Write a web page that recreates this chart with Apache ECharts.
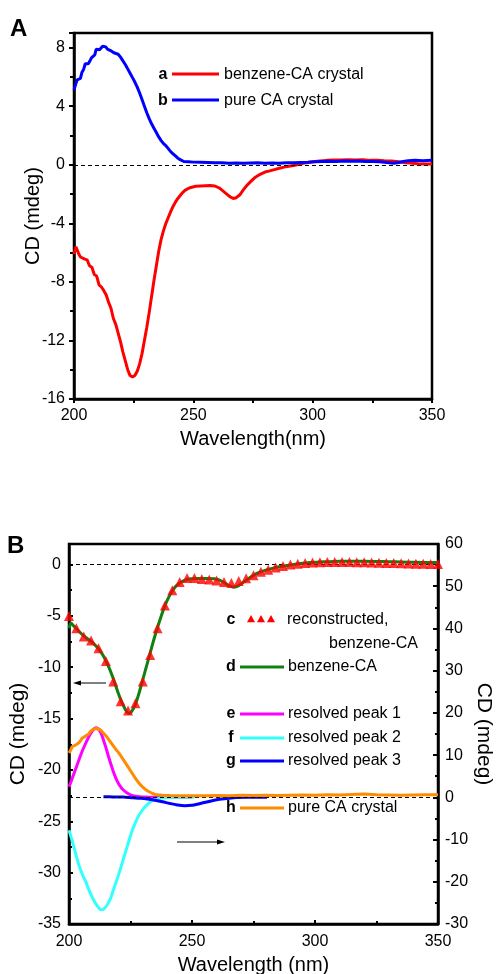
<!DOCTYPE html>
<html><head><meta charset="utf-8">
<script src="https://cdn.jsdelivr.net/npm/echarts@6/dist/echarts.min.js"></script>
<style>html,body{margin:0;padding:0;background:#fff}#c{width:496px;height:974px}</style>
</head><body><div id="c"></div>
<script>
// ---------- Panel A data ----------
const xTicks = [200, 250, 300, 350];
const aRedWl = [200,200.8,201.3,202,202.7,203.5,204.5,205.5,206.5,207.5,208.5,209.5,210.5,211.5,212.5,213.5,214.5,215.5,216.5,217.5,218.5,219.5,220.5,221.5,222.5,223.5,224.5,225.5,226.5,227.5,228.5,229.5,230.5,231.5,232.5,233.5,234.5,235.5,236.5,237.5,238.5,239.5,240.5,241.5,242.5,243.5,244.5,245.5,246.5,247.5,249,251,253,255,257,259,261,262.5,264,265.5,266.7,268,269.5,271,272.5,274,276,278,280,282,284,286,288,290,292,294,296,298,300,303,306,309,312,315,318,321,324,327,330,333,336,339,342,345,348,350];
const aRedCd = [-6.1,-5.6,-5.5,-6.1,-6.3,-6.25,-6.45,-6.5,-6.9,-7.0,-7.5,-7.6,-8.2,-8.35,-8.6,-8.9,-9.4,-9.8,-10.5,-10.9,-11.5,-12.1,-12.8,-13.4,-14.0,-14.4,-14.5,-14.4,-14.1,-13.6,-12.9,-12.0,-11.1,-10.1,-9.0,-7.9,-6.9,-5.9,-5.1,-4.5,-4.0,-3.6,-3.2,-2.85,-2.55,-2.3,-2.1,-1.9,-1.75,-1.65,-1.55,-1.47,-1.45,-1.43,-1.42,-1.45,-1.6,-1.8,-2.0,-2.2,-2.3,-2.25,-2.05,-1.7,-1.4,-1.15,-0.85,-0.65,-0.5,-0.42,-0.33,-0.24,-0.16,-0.1,-0.05,0.02,0.1,0.16,0.2,0.25,0.3,0.33,0.32,0.35,0.33,0.35,0.3,0.3,0.27,0.25,0.2,0.13,0.1,0.06,0.05,0.05];
const aBlueWl = [200,200.7,201.3,202,202.7,203.3,204,204.7,205.3,206,206.7,207.3,208,208.7,209.3,210,210.7,211.3,212,212.6,213.3,214,214.6,215.3,216,216.7,217.5,218.5,219.5,220.5,221.5,222.5,223.5,224.5,225.5,226.5,227.5,228.5,229.5,230.5,231.5,232.5,233.5,234.5,235.5,236.5,237.5,238.5,239.5,240.5,241.5,242.5,243.5,244.5,246,248,250,253,256,259,262,265,268,271,274,277,280,283,286,289,292,295,298,301,304,307,310,313,316,319,322,325,328,331,334,336,338,340,343,346,350];
const aBlueCd = [5.1,5.5,5.8,5.7,5.9,6.3,6.5,6.9,7.0,6.9,7.1,7.3,7.2,7.5,7.9,8.0,7.85,7.9,8.1,8.2,8.05,7.9,7.95,7.8,7.85,7.65,7.6,7.55,7.35,7.1,6.85,6.55,6.25,5.95,5.65,5.3,4.9,4.45,4.0,3.55,3.15,2.8,2.5,2.2,1.9,1.65,1.45,1.3,1.1,0.9,0.75,0.6,0.45,0.35,0.22,0.2,0.18,0.17,0.16,0.14,0.13,0.11,0.12,0.1,0.12,0.13,0.11,0.12,0.11,0.13,0.14,0.16,0.17,0.2,0.22,0.24,0.22,0.25,0.24,0.25,0.22,0.23,0.2,0.15,0.1,0.15,0.22,0.27,0.3,0.28,0.3];

// ---------- Panel B data ----------
const bGreenWl = [200,200.8,201.6,202.5,204,206,208,210,212,214,216,218,220,222,223.5,224.5,225.5,227,228.5,230,231.5,233,234.5,236,237.5,239,240.5,242,243.5,245,246.5,248,250,253,256,259,261,263,265,267,269,271,273,275,277,280,283,286,289,292,295,298,302,306,310,315,320,325,330,335,340,345,350];
const bGreenCd = [-6.2,-5.7,-5.9,-6.1,-6.5,-6.95,-7.3,-7.7,-8.2,-8.9,-9.9,-11.1,-12.5,-13.7,-14.35,-14.5,-14.3,-13.6,-12.5,-11.2,-9.9,-8.6,-7.3,-6.1,-5.0,-4.0,-3.2,-2.55,-2.1,-1.8,-1.6,-1.45,-1.38,-1.35,-1.35,-1.38,-1.5,-1.75,-2.05,-2.2,-2.05,-1.7,-1.35,-1.05,-0.8,-0.55,-0.35,-0.2,-0.08,0.03,0.12,0.2,0.25,0.28,0.32,0.32,0.32,0.3,0.28,0.25,0.22,0.2,0.2];
const bReconWl = [200,203,206,209,212,215,218,221,224,227,230,233,236,239,242,245,248,251,254,257,260,263,266,269,272,275,278,281,284,287,290,293,296,299,302,305,308,311,314,317,320,323,326,329,332,335,338,341,344,347,350];
const bReconCd = [-5.0,-6.2,-7.0,-7.4,-8.15,-9.4,-11.4,-13.3,-14.2,-13.5,-11.4,-8.8,-6.2,-4.0,-2.5,-1.7,-1.3,-1.3,-1.4,-1.45,-1.55,-1.7,-1.8,-1.6,-1.33,-1.04,-0.7,-0.5,-0.28,-0.13,0.0,0.08,0.15,0.2,0.22,0.24,0.25,0.25,0.24,0.23,0.22,0.2,0.18,0.16,0.14,0.12,0.1,0.08,0.07,0.05,0.05];
const bPeak1Wl = [200,201,202,203,204,205,206,207,208,209,210,211,212,213,214,215,216,217,218,219,220,221,222,223,224,225,226,228,231,235,240,250];
const bPeak1Cd = [2.5,4.0,5.6,7.2,8.8,10.4,11.8,13.1,14.3,15.3,16.1,16.5,16.2,15.2,13.6,11.8,9.8,7.9,6.1,4.6,3.4,2.5,1.8,1.3,0.9,0.6,0.4,0.2,0.05,0.0,0.0,0.0];
const bPeak2Wl = [200,201,202,203,204,205,206,207,208,209,210,211,212,213,214,215,216,217,218,219,220,221,222,223,224,225,226,227,228,229,230,231,232,233,234,235,237,240,245,251];
const bPeak2Cd = [-7.8,-9.7,-11.8,-14.0,-16.0,-17.6,-19.0,-20.2,-21.8,-23.1,-24.3,-25.3,-26.1,-26.6,-26.5,-25.9,-25.0,-23.8,-22.0,-20.3,-18.6,-16.8,-14.8,-12.9,-11.0,-9.1,-7.4,-6.0,-4.7,-3.7,-2.9,-2.2,-1.6,-1.1,-0.75,-0.5,-0.2,-0.05,0.0,0.0];
const bPeak3Wl = [214,218,222,226,229,232,235,238,241,244,247,250,253,256,259,262,265,268,272,276,280.5];
const bPeak3Cd = [0.15,0.1,0.05,-0.1,-0.2,-0.4,-0.7,-1.05,-1.45,-1.8,-2.0,-1.9,-1.5,-1.1,-0.7,-0.4,-0.2,-0.05,0.0,0.0,0.0];
const bPureWl = [200,200.7,201.3,202,202.7,203.3,204,204.7,205.3,206,206.7,207.3,208,208.7,209.3,210,210.7,211.3,212,212.7,213.3,214,215,216,217,218,219,220,221,222,223,224,225,226,227,228,229,230,231,232,233,234,235,236,238,241,245,250,255,260,265,270,275,280,285,290,295,300,305,310,315,320,325,330,335,340,345,350];
const bPureCd = [10.5,11.2,12.0,11.9,12.4,12.8,12.9,13.4,14.0,14.3,14.5,14.8,15.0,15.6,15.9,16.2,16.1,16.3,16.1,16.0,15.6,15.2,14.6,13.8,13.0,12.2,11.4,10.7,9.9,9.0,8.1,7.2,6.3,5.4,4.5,3.7,3.0,2.4,1.9,1.5,1.2,0.9,0.7,0.6,0.5,0.45,0.4,0.35,0.4,0.45,0.4,0.5,0.45,0.5,0.45,0.5,0.55,0.5,0.6,0.55,0.7,0.8,0.6,0.55,0.5,0.55,0.6,0.6];

const zip = (xs, ys) => xs.map((x, i) => [x, ys[i]]);
const FONT = 'Liberation Sans, Arial, Helvetica, sans-serif';

const chart = echarts.init(document.getElementById('c'), null, {renderer: 'canvas'});

const axisLineA = {show: true, onZero: false, lineStyle: {color: '#000', width: 2.5}};
const labelStyle = {color: '#000', fontSize: 16, fontFamily: FONT};
const nameStyle = {color: '#000', fontSize: 20, fontFamily: FONT};

const zeroLine = {
  silent: true, symbol: ['none', 'none'], label: {show: false},
  lineStyle: {color: '#000', type: [4, 3], width: 1}, data: [{yAxis: 0}]
};

function legendItem(letter, y, color, text) {
  return [
    {type: 'text', x: 231, y: y, style: {text: letter, font: 'bold 16px ' + FONT, fill: '#000', align: 'center', verticalAlign: 'middle'}},
    {type: 'line', shape: {x1: 240, y1: y, x2: 284, y2: y}, style: {stroke: color, lineWidth: 3}},
    {type: 'text', x: 288, y: y, style: {text: text, font: '16px ' + FONT, fill: '#000', align: 'left', verticalAlign: 'middle'}}
  ];
}
function tri(cx, cy, s) {
  return {type: 'polygon', shape: {points: [[cx, cy - s], [cx + s, cy + s * 0.8], [cx - s, cy + s * 0.8]]}, style: {fill: '#ff0000'}};
}

const option = {
  animation: false,
  backgroundColor: '#fff',
  grid: [
    {left: 74, top: 33, width: 358, height: 366, show: true, borderColor: '#000', borderWidth: 2.5, backgroundColor: 'transparent', outerBoundsMode: 'none'},
    {left: 69, top: 544, width: 369, height: 380, show: true, borderColor: '#000', borderWidth: 2.5, backgroundColor: 'transparent', outerBoundsMode: 'none'}
  ],
  xAxis: [
    {gridIndex: 0, type: 'value', min: 200, max: 350, interval: 50,
     axisLine: axisLineA, splitLine: {show: false},
     axisTick: {show: true, length: 4, inside: false, lineStyle: {color: '#000', width: 2}},
     minorTick: {show: true, splitNumber: 2, length: 4, lineStyle: {color: '#000', width: 2}},
     axisLabel: Object.assign({margin: 9}, labelStyle),
     name: 'Wavelength(nm)', nameLocation: 'middle', nameGap: 30, nameMoveOverlap: false, nameTextStyle: nameStyle},
    {gridIndex: 1, type: 'value', min: 200, max: 350, interval: 50,
     axisLine: axisLineA, splitLine: {show: false},
     axisTick: {show: true, length: 4, inside: true, lineStyle: {color: '#000', width: 2}},
     minorTick: {show: true, splitNumber: 2, length: 3, lineStyle: {color: '#000', width: 2}},
     axisLabel: Object.assign({margin: 10}, labelStyle),
     name: 'Wavelength (nm)', nameLocation: 'middle', nameGap: 31, nameMoveOverlap: false, nameTextStyle: nameStyle}
  ],
  yAxis: [
    {gridIndex: 0, type: 'value', min: -16, max: 9, interval: 4,
     axisLine: axisLineA, splitLine: {show: false},
     axisTick: {show: true, length: 5, inside: false, lineStyle: {color: '#000', width: 2}},
     minorTick: {show: true, splitNumber: 2, length: 4, lineStyle: {color: '#000', width: 2}},
     axisLabel: Object.assign({margin: 9, showMaxLabel: false, formatter: v => (v % 4 === 0 ? String(v) : '')}, labelStyle),
     name: 'CD (mdeg)', nameLocation: 'middle', nameGap: 31, nameMoveOverlap: false, nameTextStyle: nameStyle},
    {gridIndex: 1, type: 'value', min: -35, max: 2, interval: 5, position: 'left',
     axisLine: axisLineA, splitLine: {show: false},
     axisTick: {show: true, length: 4, inside: true, lineStyle: {color: '#000', width: 2}},
     minorTick: {show: true, splitNumber: 2, length: 3, lineStyle: {color: '#000', width: 2}},
     axisLabel: Object.assign({margin: 8, showMaxLabel: false, formatter: v => (v % 5 === 0 ? String(v) : '')}, labelStyle),
     name: 'CD (mdeg)', nameLocation: 'middle', nameGap: 40, nameMoveOverlap: false, nameTextStyle: Object.assign({}, nameStyle, {fontSize: 21})},
    {gridIndex: 1, type: 'value', min: -30, max: 60, interval: 10, position: 'right',
     axisLine: axisLineA, splitLine: {show: false},
     axisTick: {show: true, length: 5, inside: true, lineStyle: {color: '#000', width: 2}},
     minorTick: {show: true, splitNumber: 2, length: 3, lineStyle: {color: '#000', width: 2}},
     axisLabel: Object.assign({margin: 7}, labelStyle),
     name: 'CD (mdeg)', nameLocation: 'middle', nameGap: 35, nameRotate: -90, nameMoveOverlap: false, nameTextStyle: Object.assign({}, nameStyle, {fontSize: 21})}
  ],
  series: [
    {name: 'benzene-CA crystal', type: 'line', xAxisIndex: 0, yAxisIndex: 0, data: zip(aRedWl, aRedCd),
     showSymbol: false, lineStyle: {color: '#ff0000', width: 3}, itemStyle: {color: '#ff0000'}, z: 3, markLine: zeroLine},
    {name: 'pure CA crystal', type: 'line', xAxisIndex: 0, yAxisIndex: 0, data: zip(aBlueWl, aBlueCd),
     showSymbol: false, lineStyle: {color: '#0000ff', width: 3}, itemStyle: {color: '#0000ff'}, z: 4},

    {name: 'resolved peak 1', type: 'line', xAxisIndex: 1, yAxisIndex: 2, data: zip(bPeak1Wl, bPeak1Cd), smooth: 0.3,
     showSymbol: false, lineStyle: {color: '#ff00ff', width: 3}, itemStyle: {color: '#ff00ff'}, z: 3, markLine: zeroLine},
    {name: 'resolved peak 2', type: 'line', xAxisIndex: 1, yAxisIndex: 2, data: zip(bPeak2Wl, bPeak2Cd), smooth: 0.3,
     showSymbol: false, lineStyle: {color: '#33ffff', width: 3}, itemStyle: {color: '#33ffff'}, z: 3},
    {name: 'resolved peak 3', type: 'line', xAxisIndex: 1, yAxisIndex: 2, data: zip(bPeak3Wl, bPeak3Cd), smooth: 0.3,
     showSymbol: false, lineStyle: {color: '#0000ff', width: 3}, itemStyle: {color: '#0000ff'}, z: 4},
    {name: 'pure CA crystal B', type: 'line', xAxisIndex: 1, yAxisIndex: 2, data: zip(bPureWl, bPureCd),
     showSymbol: false, lineStyle: {color: '#ff8c00', width: 3}, itemStyle: {color: '#ff8c00'}, z: 5},
    {name: 'benzene-CA', type: 'line', xAxisIndex: 1, yAxisIndex: 1, data: zip(bGreenWl, bGreenCd), smooth: 0.3,
     showSymbol: false, lineStyle: {color: '#108010', width: 3}, itemStyle: {color: '#108010'}, z: 5, markLine: zeroLine},
    {name: 'reconstructed, benzene-CA', type: 'scatter', xAxisIndex: 1, yAxisIndex: 1, data: zip(bReconWl, bReconCd),
     symbol: 'triangle', symbolSize: 10, itemStyle: {color: '#ff0000'}, z: 6}
  ],
  graphic: [].concat(
    [
      {type: 'text', x: 10, y: 17, style: {text: 'A', font: 'bold 24px ' + FONT, fill: '#000'}},
      {type: 'text', x: 7, y: 534, style: {text: 'B', font: 'bold 24px ' + FONT, fill: '#000'}},
      // Panel A legend
      {type: 'text', x: 163, y: 75, style: {text: 'a', font: 'bold 16px ' + FONT, fill: '#000', align: 'center', verticalAlign: 'middle'}},
      {type: 'line', shape: {x1: 172, y1: 74, x2: 219, y2: 74}, style: {stroke: '#ff0000', lineWidth: 3}},
      {type: 'text', x: 224, y: 75, style: {text: 'benzene-CA crystal', font: '16px ' + FONT, fill: '#000', align: 'left', verticalAlign: 'middle'}},
      {type: 'text', x: 163, y: 101, style: {text: 'b', font: 'bold 16px ' + FONT, fill: '#000', align: 'center', verticalAlign: 'middle'}},
      {type: 'line', shape: {x1: 172, y1: 100, x2: 219, y2: 100}, style: {stroke: '#0000ff', lineWidth: 3}},
      {type: 'text', x: 224, y: 101, style: {text: 'pure CA crystal', font: '16px ' + FONT, fill: '#000', align: 'left', verticalAlign: 'middle'}},
      // Panel B legend
      {type: 'text', x: 231, y: 620, style: {text: 'c', font: 'bold 16px ' + FONT, fill: '#000', align: 'center', verticalAlign: 'middle'}},
      tri(251, 619, 4), tri(261, 619, 4), tri(271, 619, 4),
      {type: 'text', x: 287, y: 620, style: {text: 'reconstructed,', font: '16px ' + FONT, fill: '#000', align: 'left', verticalAlign: 'middle'}},
      {type: 'text', x: 418, y: 644, style: {text: 'benzene-CA', font: '16px ' + FONT, fill: '#000', align: 'right', verticalAlign: 'middle'}},
      // arrows
      {type: 'line', shape: {x1: 106, y1: 683, x2: 78, y2: 683}, style: {stroke: '#000', lineWidth: 1}},
      {type: 'polygon', shape: {points: [[73, 683], [81, 680.5], [81, 685.5]]}, style: {fill: '#000'}},
      {type: 'line', shape: {x1: 177, y1: 842, x2: 220, y2: 842}, style: {stroke: '#000', lineWidth: 1}},
      {type: 'polygon', shape: {points: [[225, 842], [217, 839.5], [217, 844.5]]}, style: {fill: '#000'}}
    ],
    legendItem('d', 667, '#108010', 'benzene-CA'),
    legendItem('e', 714, '#ff00ff', 'resolved peak 1'),
    legendItem('f', 738, '#33ffff', 'resolved peak 2'),
    legendItem('g', 761, '#0000ff', 'resolved peak 3'),
    legendItem('h', 808, '#ff8c00', 'pure CA crystal')
  )
};
chart.setOption(option);
</script>
</body></html>
